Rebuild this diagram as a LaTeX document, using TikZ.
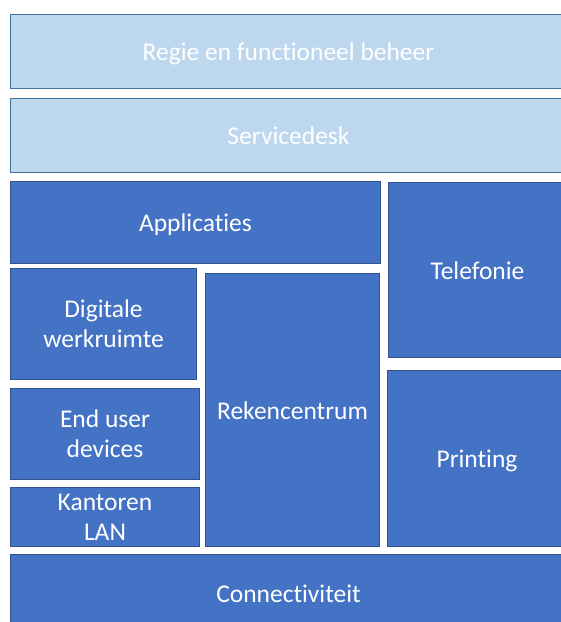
\documentclass[tikz,border=0pt]{standalone}
\usepackage{fontspec}
\setmainfont{Carlito}[Ligatures=NoCommon]
\definecolor{lichtblauw}{HTML}{BDD7EE}
\definecolor{lichtrand}{HTML}{41719C}
\definecolor{donkerblauw}{HTML}{4472C4}
\definecolor{donkerrand}{HTML}{2F528F}
\tikzset{
  blok/.style={draw=donkerrand, fill=donkerblauw, line width=1pt, text=white,
    inner sep=0pt, anchor=north west, align=center,
    font=\fontsize{25.5}{30}\selectfont,
    text height=24pt, text depth=6pt},
  licht/.style={blok, draw=lichtrand, fill=lichtblauw},
  tweeregels/.style={blok, text height=52pt}
}

\begin{document}
\begin{tikzpicture}[x=1pt, y=-1pt]
  \path [use as bounding box, clip] (0, 0) rectangle (561, 622);
  % bovenste lagen
  \node [licht, minimum width=556pt, minimum height=74pt] (regie) at (10, 14) {Regie en functioneel beheer};
  \node [licht, minimum width=556pt, minimum height=74pt] (servicedesk) at (10, 98) {Servicedesk};
  % middenblok
  \node [blok, minimum width=370pt, minimum height=82pt] (applicaties) at (10, 181) {Applicaties};
  \node [blok, minimum width=178pt, minimum height=175pt] (telefonie) at (388, 182) {Telefonie};
  \node [tweeregels, minimum width=186pt, minimum height=111pt] (werkruimte) at (10, 268) {Digitale\\werkruimte};
  \node [blok, minimum width=174pt, minimum height=273pt] (rekencentrum) at (205, 273) {Rekencentrum};
  \node [tweeregels, minimum width=189pt, minimum height=91pt] (devices) at (10, 388) {End user\\devices};
  \node [tweeregels, minimum width=189pt, minimum height=59pt] (lan) at (10, 487) {Kantoren\\LAN};
  \node [blok, minimum width=179pt, minimum height=176pt] (printing) at (387, 370) {Printing};
  % onderste laag
  \node [blok, minimum width=556pt, minimum height=78pt] (connectiviteit) at (10, 554) {Connectiviteit};
\end{tikzpicture}
\end{document}
